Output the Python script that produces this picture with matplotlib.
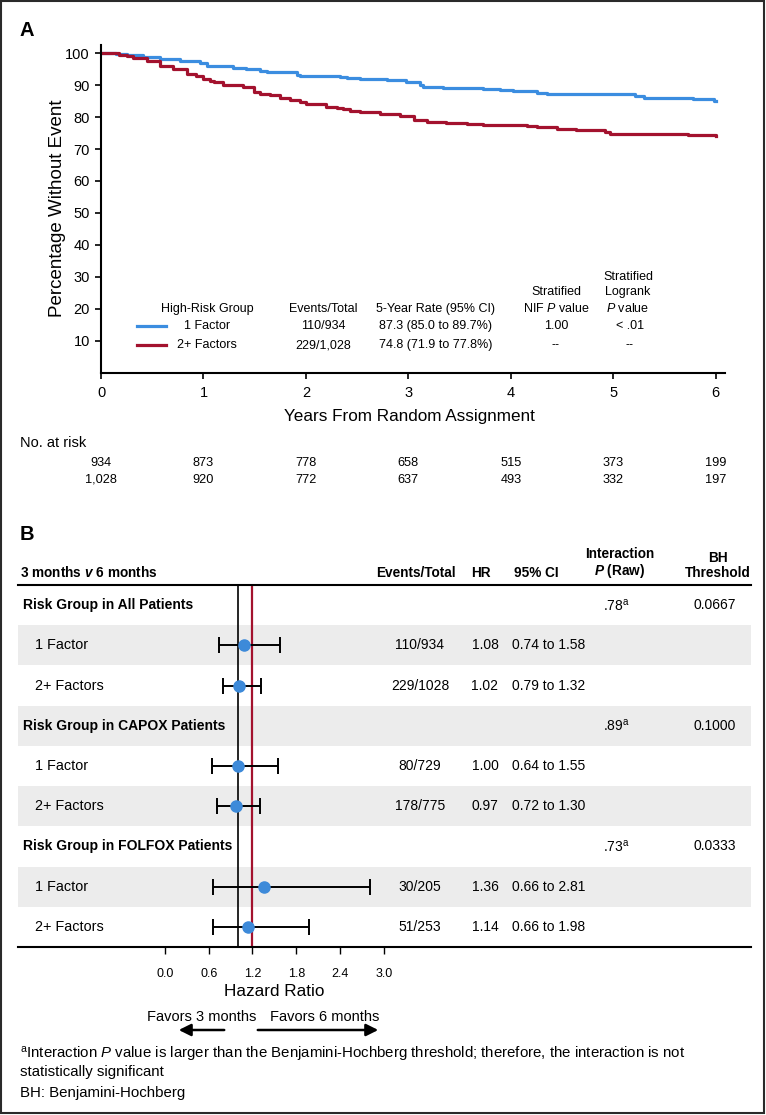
import matplotlib
matplotlib.use('Agg')
import matplotlib.pyplot as plt
from matplotlib.lines import Line2D
from matplotlib.patches import Rectangle, FancyArrowPatch
from matplotlib.transforms import blended_transform_factory as blend

plt.rcParams['font.family'] = ['Liberation Sans', 'DejaVu Sans']
plt.rcParams['mathtext.fontset'] = 'custom'
plt.rcParams['mathtext.rm'] = 'Liberation Sans'
plt.rcParams['mathtext.it'] = 'Liberation Sans:italic'
plt.rcParams['mathtext.bf'] = 'Liberation Sans:bold'
plt.rcParams['mathtext.bfit'] = 'Liberation Sans:italic:bold'

W, H = 766, 1115

# panel A: KM curves (years, % without event)
T_ONE = [0, 0.15, 0.25, 0.41, 0.58, 0.77, 0.97, 1.03, 1.29, 1.42, 1.55, 1.62, 1.91, 1.94,
         2.33, 2.40, 2.53, 2.79, 2.98, 3.11, 3.14, 3.34, 3.73, 3.89, 4.02, 4.26, 4.35,
         5.12, 5.21, 5.30, 5.59, 5.78, 5.98, 6.0]
S_ONE = [100, 99.8, 99.6, 98.9, 98.2, 97.6, 97.0, 96.1, 95.5, 95.1, 94.5, 94.0, 93.2, 92.8,
         92.6, 92.2, 92.0, 91.7, 90.9, 90.1, 89.5, 89.0, 88.8, 88.5, 88.2, 87.5, 87.3,
         87.3, 86.6, 86.1, 85.9, 85.6, 85.0, 85.0]
T_TWO = [0, 0.18, 0.25, 0.31, 0.45, 0.58, 0.70, 0.84, 0.93, 1.0, 1.06, 1.10, 1.19, 1.39,
         1.49, 1.55, 1.65, 1.75, 1.84, 1.94, 2.0, 2.2, 2.3, 2.36, 2.43, 2.53, 2.72, 2.92,
         3.05, 3.18, 3.37, 3.57, 3.73, 4.16, 4.26, 4.45, 4.64, 4.92, 4.97, 5.73, 6.0]
S_TWO = [100, 99.5, 99.3, 98.4, 97.7, 96.0, 95.0, 93.6, 92.8, 92.1, 91.3, 90.9, 90.1, 89.5,
         88.0, 87.3, 86.9, 85.9, 85.4, 84.6, 84.0, 83.3, 83.0, 82.5, 81.9, 81.7, 80.9, 80.3,
         79.1, 78.6, 78.3, 77.8, 77.5, 77.2, 76.8, 76.3, 76.0, 75.3, 74.8, 74.4, 74.1]

AT_RISK_YEARS = [0, 1, 2, 3, 4, 5, 6]
AT_RISK_ONE = ['934', '873', '778', '658', '515', '373', '199']
AT_RISK_TWO = ['1,028', '920', '772', '637', '493', '332', '197']

LEG_GROUPS = ['1 Factor', '2+ Factors']
LEG_EVENTS = ['110/934', '229/1,028']
LEG_RATE = ['87.3 (85.0 to 89.7%)', '74.8 (71.9 to 77.8%)']
LEG_NIF = ['1.00', '--']
LEG_LOGRANK = ['< .01', '--']

# panel B: forest plot
ROWS = ['Risk Group in All Patients', '1 Factor', '2+ Factors',
        'Risk Group in CAPOX Patients', '1 Factor', '2+ Factors',
        'Risk Group in FOLFOX Patients', '1 Factor', '2+ Factors']
IS_GROUP = [True, False, False, True, False, False, True, False, False]
EVENTS = ['', '110/934', '229/1028', '', '80/729', '178/775', '', '30/205', '51/253']
HR = [None, 1.08, 1.02, None, 1.00, 0.97, None, 1.36, 1.14]
CI_LO = [None, 0.74, 0.79, None, 0.64, 0.72, None, 0.66, 0.66]
CI_HI = [None, 1.58, 1.32, None, 1.55, 1.30, None, 2.81, 1.98]
INTER_P = ['.78', '', '', '.89', '', '', '.73', '', '']
BH_THRESH = ['0.0667', '', '', '0.1000', '', '', '0.0333', '', '']
HR_TICKS = [0.0, 0.6, 1.2, 1.8, 2.4, 3.0]
NULL_HR = 1.0
RED_HR = 1.2

BLUE = '#3b8de0'
RED = '#a3122e'
DOT = '#3d8ad9'
SHADE = '#ececec'


def fx(x):
    return x / W


def fy(y):
    return 1 - y / H


fig = plt.figure(figsize=(W / 100, H / 100), dpi=100)


def ftext(x, y, s, **kw):
    fig.text(fx(x), fy(y), s, **kw)


# ---------------- panel A ----------------
axA = fig.add_axes([fx(101), fy(372.5), (725 - 101) / W, (372.5 - 45) / H])
axA.step(T_ONE, S_ONE, where='post', color=BLUE, lw=2.3)
axA.step(T_TWO, S_TWO, where='post', color=RED, lw=2.3)
axA.set_xlim(0, 6.09)
axA.set_ylim(0, 102.6)
axA.set_xticks(AT_RISK_YEARS)
axA.set_yticks(range(10, 101, 10))
for s in ['top', 'right']:
    axA.spines[s].set_visible(False)
for s in ['left', 'bottom']:
    axA.spines[s].set_linewidth(1.5)
axA.tick_params(direction='out', length=4, width=1.2, labelsize=10.5)
axA.tick_params(axis='x', pad=6)
axA.tick_params(axis='y', pad=4)
axA.set_ylabel('Percentage Without Event', fontsize=13.5, va='center')
axA.yaxis.set_label_coords((57 - 101) / 624, 0.5)
axA.set_xlabel('Years From Random Assignment', fontsize=12.3, va='center')
axA.xaxis.set_label_coords((409 - 101) / 624, -(417 - 372.5) / 327.5)

ftext(20, 30, 'A', fontsize=14.5, fontweight='bold', va='center')

# legend table inside panel A
leg = dict(fontsize=9, ha='center', va='bottom', linespacing=1.35)
ftext(207, 315, 'High-Risk Group', **leg)
ftext(323, 315, 'Events/Total', **leg)
ftext(436, 315, '5-Year Rate (95% CI)', **leg)
ftext(556, 315, 'Stratified\nNIF $\\mathit{P}$ value', **leg)
ftext(628, 315, 'Stratified\nLogrank\n$\\mathit{P}$ value', **leg)
for i, ypos in enumerate([326, 345]):
    fig.add_artist(Line2D([fx(137), fx(166)], [fy(ypos), fy(ypos)], transform=fig.transFigure,
                          color=[BLUE, RED][i], lw=2.3))
    ftext(207, ypos, LEG_GROUPS[i], fontsize=9, ha='center', va='center')
    ftext(323, ypos, LEG_EVENTS[i], fontsize=9, ha='center', va='center')
    ftext(436, ypos, LEG_RATE[i], fontsize=9, ha='center', va='center')
    ftext(556, ypos, LEG_NIF[i], fontsize=9, ha='center', va='center')
    ftext(630, ypos, LEG_LOGRANK[i], fontsize=9, ha='center', va='center')

# numbers at risk
ftext(20, 443, 'No. at risk', fontsize=10.5, va='center')
tr_risk = blend(axA.transData, fig.transFigure)
for yr, a, b in zip(AT_RISK_YEARS, AT_RISK_ONE, AT_RISK_TWO):
    axA.text(yr, fy(463), a, transform=tr_risk, fontsize=9.2, ha='center', va='center')
    axA.text(yr, fy(480), b, transform=tr_risk, fontsize=9.2, ha='center', va='center')

# ---------------- panel B ----------------
ftext(20, 534, 'B', fontsize=14.5, fontweight='bold', va='center')

hdr = dict(fontsize=9.8, fontweight='bold', va='bottom', linespacing=1.05)
ftext(20, 580, '3 months $\\mathbfit{v}$ 6 months', ha='left', **hdr)
ftext(416, 580, 'Events/Total', ha='center', **hdr)
ftext(481, 580, 'HR', ha='center', **hdr)
ftext(514, 580, '95% CI', ha='left', **hdr)
ftext(620, 580, 'Interaction\n$\\mathbfit{P}$ (Raw)', ha='center', multialignment='center', **hdr)
ftext(718, 580, 'BH\nThreshold', ha='center', multialignment='center', **hdr)

axB = fig.add_axes([fx(18), fy(947), (751 - 18) / W, (947 - 585) / H])
px_per_hr = 72.9
axB.set_xlim((18 - 165) / px_per_hr, (751 - 165) / px_per_hr)
axB.set_ylim(len(ROWS) + 0.5, 0.5)
ypos = list(range(1, len(ROWS) + 1))
for i, y in enumerate(ypos):
    if i % 2 == 1:
        axB.axhspan(y - 0.5, y + 0.5, color=SHADE, lw=0, zorder=0)
axB.axvline(NULL_HR, color='black', lw=1.2, zorder=1)
axB.axvline(RED_HR, color=RED, lw=1.6, zorder=1)
for i, y in enumerate(ypos):
    if HR[i] is None:
        continue
    axB.errorbar([HR[i]], [y], xerr=[[HR[i] - CI_LO[i]], [CI_HI[i] - HR[i]]], fmt='o',
                 color=DOT, ms=8, ecolor='black', elinewidth=1.4, capsize=6, capthick=1.4,
                 zorder=3)
for s in ['left', 'right']:
    axB.spines[s].set_visible(False)
for s in ['top', 'bottom']:
    axB.spines[s].set_linewidth(1.5)
axB.set_yticks([])
axB.set_xticks(HR_TICKS)
axB.set_xticklabels([f'{t:.1f}' for t in HR_TICKS])
axB.tick_params(axis='x', direction='out', length=5, width=1, labelsize=9, pad=10)

trB = blend(fig.transFigure, axB.transData)
for i, y in enumerate(ypos):
    if IS_GROUP[i]:
        axB.text(fx(23), y, ROWS[i], transform=trB, fontsize=10, fontweight='bold', va='center')
        axB.text(fx(603), y, INTER_P[i] + '$^{\\mathrm{a}}$', transform=trB, fontsize=10,
                 va='center')
        axB.text(fx(715), y, BH_THRESH[i], transform=trB, fontsize=10, ha='center', va='center')
    else:
        axB.text(fx(35), y, ROWS[i], transform=trB, fontsize=10.4, va='center')
        axB.text(fx(420), y, EVENTS[i], transform=trB, fontsize=10, ha='center', va='center')
        axB.text(fx(485), y, f'{HR[i]:.2f}', transform=trB, fontsize=10, ha='center', va='center')
        axB.text(fx(512), y, f'{CI_LO[i]:.2f} to {CI_HI[i]:.2f}', transform=trB, fontsize=10,
                 va='center')

ftext(274, 992, 'Hazard Ratio', fontsize=12.3, ha='center', va='center')
ftext(202, 1017, 'Favors 3 months', fontsize=10.5, ha='center', va='center')
ftext(325, 1017, 'Favors 6 months', fontsize=10.5, ha='center', va='center')
for x0, x1 in [(227, 176), (255, 381)]:
    fig.add_artist(FancyArrowPatch((fx(x0), fy(1030)), (fx(x1), fy(1030)),
                                   transform=fig.transFigure, arrowstyle='-|>',
                                   mutation_scale=18, lw=1.8, color='black'))

ftext(20, 1055, '$^{\\mathrm{a}}$Interaction $\\mathit{P}$ value is larger than the '
      'Benjamini-Hochberg threshold; therefore, the interaction is not',
      fontsize=10.8, va='center')
ftext(20, 1072, 'statistically significant', fontsize=10.8, va='center')
ftext(20, 1093, 'BH: Benjamini-Hochberg', fontsize=10.8, va='center')

# outer frame
fig.add_artist(Rectangle((fx(1), fy(1113)), (764 - 1) / W, (1113 - 1) / H,
                         transform=fig.transFigure, fill=False, ec='#2a2a2a', lw=1.5))

fig.savefig('out.png', dpi=100)
